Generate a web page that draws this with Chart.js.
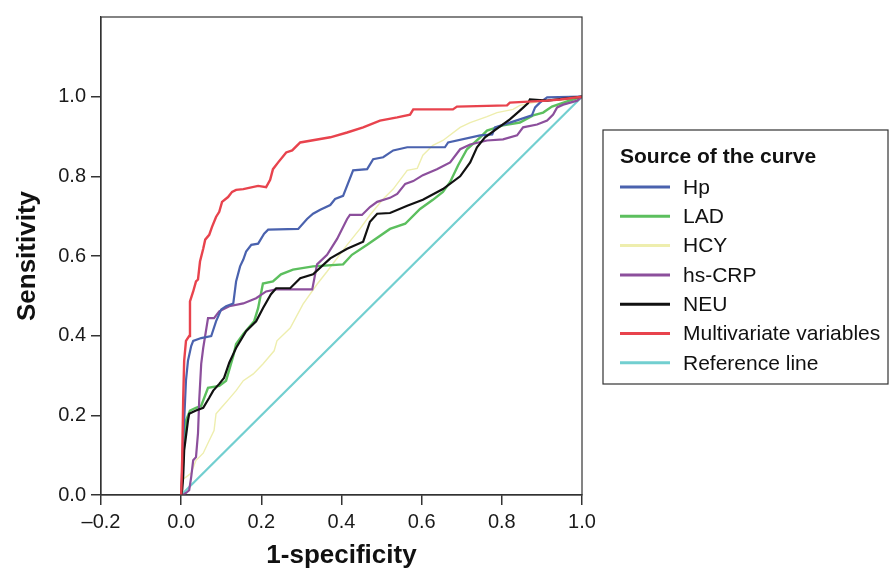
<!DOCTYPE html>
<html>
<head>
<meta charset="utf-8">
<script src="https://cdn.jsdelivr.net/npm/chart.js@4.4.1/dist/chart.umd.min.js"></script>
<style>
  html, body { margin: 0; padding: 0; background: #fff; }
  #wrap { width: 890px; height: 571px; position: relative; }
</style>
</head>
<body>
<div id="wrap"><canvas id="roc" width="890" height="571"></canvas></div>
<script>
// ROC curves (x = 1-specificity, y = sensitivity)
const hpX = [0, 0.0025, 0.005, 0.0075, 0.012, 0.017, 0.025, 0.030, 0.050, 0.075, 0.087, 0.100, 0.112, 0.130, 0.137, 0.147, 0.155, 0.162, 0.175, 0.192, 0.207, 0.217, 0.292, 0.314, 0.329, 0.347, 0.372, 0.384, 0.404, 0.429, 0.464, 0.479, 0.504, 0.529, 0.564, 0.658, 0.666, 0.746, 0.776, 0.783, 0.845, 0.875, 0.883, 0.895, 0.913, 1];
const hpY = [0, 0.062, 0.137, 0.187, 0.287, 0.337, 0.374, 0.387, 0.394, 0.399, 0.436, 0.466, 0.474, 0.481, 0.536, 0.574, 0.591, 0.611, 0.628, 0.631, 0.656, 0.666, 0.668, 0.693, 0.706, 0.716, 0.728, 0.743, 0.751, 0.815, 0.818, 0.843, 0.848, 0.865, 0.873, 0.873, 0.885, 0.903, 0.905, 0.923, 0.943, 0.953, 0.973, 0.985, 0.998, 1];

const ladX = [0, 0.0025, 0.0075, 0.012, 0.022, 0.037, 0.050, 0.067, 0.095, 0.112, 0.130, 0.137, 0.155, 0.182, 0.192, 0.204, 0.229, 0.249, 0.279, 0.329, 0.404, 0.426, 0.464, 0.521, 0.559, 0.596, 0.628, 0.653, 0.671, 0.691, 0.713, 0.746, 0.763, 0.803, 0.845, 0.878, 0.903, 0.925, 0.963, 1];
const ladY = [0, 0.037, 0.137, 0.187, 0.212, 0.219, 0.224, 0.269, 0.274, 0.287, 0.349, 0.379, 0.404, 0.436, 0.469, 0.531, 0.536, 0.554, 0.566, 0.574, 0.579, 0.603, 0.628, 0.668, 0.681, 0.718, 0.741, 0.761, 0.786, 0.828, 0.868, 0.898, 0.915, 0.928, 0.935, 0.953, 0.960, 0.975, 0.988, 1];

const hcyX = [0, 0.0025, 0.012, 0.025, 0.037, 0.055, 0.070, 0.082, 0.087, 0.100, 0.120, 0.137, 0.155, 0.180, 0.204, 0.232, 0.239, 0.272, 0.304, 0.339, 0.364, 0.414, 0.446, 0.471, 0.504, 0.529, 0.564, 0.589, 0.603, 0.628, 0.653, 0.696, 0.721, 0.763, 0.788, 0.828, 0.845, 0.878, 0.913, 0.970, 1];
const hcyY = [0, 0.037, 0.045, 0.055, 0.087, 0.105, 0.137, 0.162, 0.204, 0.219, 0.242, 0.262, 0.287, 0.304, 0.329, 0.362, 0.387, 0.419, 0.479, 0.529, 0.561, 0.628, 0.668, 0.703, 0.743, 0.768, 0.815, 0.820, 0.853, 0.878, 0.890, 0.923, 0.935, 0.950, 0.960, 0.968, 0.978, 0.985, 0.990, 0.993, 1];

const crpX = [0, 0.005, 0.012, 0.020, 0.025, 0.030, 0.037, 0.042, 0.045, 0.050, 0.055, 0.067, 0.082, 0.095, 0.120, 0.155, 0.187, 0.212, 0.237, 0.327, 0.339, 0.364, 0.389, 0.414, 0.421, 0.451, 0.471, 0.489, 0.521, 0.539, 0.559, 0.579, 0.603, 0.638, 0.671, 0.696, 0.721, 0.763, 0.803, 0.838, 0.853, 0.888, 0.913, 0.928, 0.938, 0.953, 0.988, 1];
const crpY = [0, 0, 0.005, 0.012, 0.045, 0.087, 0.095, 0.155, 0.237, 0.329, 0.369, 0.444, 0.444, 0.461, 0.474, 0.481, 0.494, 0.511, 0.516, 0.516, 0.579, 0.603, 0.643, 0.693, 0.703, 0.703, 0.723, 0.736, 0.746, 0.756, 0.781, 0.788, 0.803, 0.818, 0.835, 0.868, 0.880, 0.890, 0.893, 0.903, 0.923, 0.930, 0.940, 0.955, 0.973, 0.980, 0.990, 1];

const neuX = [0, 0.0025, 0.005, 0.0075, 0.017, 0.020, 0.037, 0.055, 0.070, 0.080, 0.095, 0.107, 0.120, 0.137, 0.162, 0.187, 0.204, 0.224, 0.237, 0.272, 0.297, 0.329, 0.372, 0.414, 0.454, 0.471, 0.489, 0.521, 0.564, 0.603, 0.653, 0.696, 0.721, 0.738, 0.758, 0.788, 0.820, 0.845, 0.865, 0.870, 0.913, 1];
const neuY = [0, 0.012, 0.045, 0.112, 0.187, 0.204, 0.212, 0.219, 0.244, 0.262, 0.279, 0.294, 0.332, 0.369, 0.411, 0.436, 0.469, 0.504, 0.519, 0.519, 0.544, 0.554, 0.594, 0.618, 0.636, 0.686, 0.706, 0.708, 0.726, 0.741, 0.768, 0.800, 0.835, 0.873, 0.898, 0.920, 0.943, 0.965, 0.983, 0.993, 0.990, 1];

const multiX = [0, 0.0025, 0.005, 0.0075, 0.012, 0.020, 0.022, 0.030, 0.037, 0.042, 0.047, 0.055, 0.060, 0.070, 0.077, 0.087, 0.095, 0.102, 0.117, 0.127, 0.137, 0.155, 0.192, 0.212, 0.222, 0.229, 0.242, 0.262, 0.277, 0.297, 0.372, 0.414, 0.454, 0.496, 0.539, 0.571, 0.579, 0.678, 0.688, 0.813, 0.820, 0.913, 0.945, 1];
const multiY = [0, 0.087, 0.237, 0.337, 0.387, 0.399, 0.486, 0.511, 0.536, 0.541, 0.586, 0.618, 0.641, 0.653, 0.673, 0.698, 0.711, 0.736, 0.748, 0.761, 0.766, 0.768, 0.776, 0.773, 0.791, 0.818, 0.835, 0.860, 0.865, 0.885, 0.898, 0.910, 0.923, 0.940, 0.948, 0.955, 0.968, 0.968, 0.975, 0.978, 0.985, 0.990, 0.993, 1];

const refX = [0, 1];
const refY = [0, 1];

const seriesLabels = ['Hp', 'LAD', 'HCY', 'hs-CRP', 'NEU', 'Multivariate variables', 'Reference line'];
const seriesColors = ['#4a62ae', '#5cbf5e', '#eeeeae', '#8c4f9c', '#111111', '#e8434d', '#72cfd0'];
const seriesWidths = [2.2, 2.4, 1.4, 2.2, 2.2, 2.4, 2.2];
const seriesX = [hpX, ladX, hcyX, crpX, neuX, multiX, refX];
const seriesY = [hpY, ladY, hcyY, crpY, neuY, multiY, refY];
// which curve sits on top (lower = drawn last)
const drawOrder = [2, 4, 5, 3, 1, 0, 6];

const xTicks = [-0.2, 0, 0.2, 0.4, 0.6, 0.8, 1.0];
const yTicks = [0, 0.2, 0.4, 0.6, 0.8, 1.0];

const FONT = "'Liberation Sans', Arial, sans-serif";

function fmt(v) {
    const s = (Math.abs(v) < 1e-9 ? 0 : v).toFixed(1);
    return s.replace('-', '\u2013');
}

const datasets = seriesLabels.map((label, i) => ({
    label,
    data: seriesX[i].map((x, k) => ({ x, y: seriesY[i][k] })),
    borderColor: seriesColors[i],
    backgroundColor: seriesColors[i],
    borderWidth: seriesWidths[i],
    pointRadius: 0,
    tension: 0,
    fill: false,
    order: drawOrder[i]
}));

// plot frame (top and right sides too)
const framePlugin = {
    id: 'frame',
    afterDatasetsDraw(chart) {
        const { ctx, chartArea: a } = chart;
        ctx.save();
        ctx.strokeStyle = '#333';
        ctx.lineWidth = 1.2;
        ctx.strokeRect(a.left, a.top, a.right - a.left, a.bottom - a.top);
        ctx.restore();
    }
};

// boxed legend on the right, like the original
const boxLegend = {
    id: 'boxLegend',
    afterDraw(chart) {
        const ctx = chart.ctx;
        const left = 603, top = 130, right = 888, bottom = 384;
        ctx.save();
        ctx.strokeStyle = '#333';
        ctx.lineWidth = 1.2;
        ctx.strokeRect(left, top, right - left, bottom - top);
        ctx.fillStyle = '#111';
        ctx.textBaseline = 'middle';
        ctx.font = `bold 21px ${FONT}`;
        ctx.fillText('Source of the curve', 620, 157);
        ctx.font = `21px ${FONT}`;
        chart.data.datasets.forEach((ds, i) => {
            const y = 187 + i * 29.3;
            ctx.strokeStyle = ds.borderColor;
            ctx.lineWidth = 3;
            ctx.beginPath();
            ctx.moveTo(620, y);
            ctx.lineTo(670, y);
            ctx.stroke();
            ctx.fillStyle = '#111';
            ctx.fillText(ds.label, 683, y + 1);
        });
        ctx.restore();
    }
};

new Chart(document.getElementById('roc').getContext('2d'), {
    type: 'line',
    data: { datasets },
    options: {
        responsive: false,
        devicePixelRatio: 1,
        animation: { duration: 0 },
        layout: { padding: { left: 0, right: 308, top: 14, bottom: 0 } },
        plugins: {
            legend: { display: false },
            tooltip: { enabled: false }
        },
        scales: {
            x: {
                type: 'linear',
                min: -0.2,
                max: 1.0,
                afterFit(scale) { scale.height = 76; },
                afterBuildTicks(scale) { scale.ticks = xTicks.map(v => ({ value: v })); },
                ticks: {
                    callback: v => fmt(v),
                    color: '#1a1a1a',
                    padding: 5,
                    maxRotation: 0,
                    font: { family: FONT, size: 20 }
                },
                grid: { display: true, drawOnChartArea: false, drawTicks: true, tickLength: 10, color: '#333', lineWidth: 1.5 },
                border: { display: true, color: '#333', width: 1.2 },
                title: {
                    display: true,
                    text: '1-specificity',
                    color: '#111',
                    padding: { top: 0, bottom: 0 },
                    font: { family: FONT, size: 26, weight: 'bold' }
                }
            },
            y: {
                type: 'linear',
                min: 0,
                max: 1.2,
                afterFit(scale) { scale.width = 101; },
                afterBuildTicks(scale) { scale.ticks = yTicks.map(v => ({ value: v })); },
                ticks: {
                    callback: v => fmt(v),
                    color: '#1a1a1a',
                    padding: 5,
                    font: { family: FONT, size: 20 }
                },
                grid: { display: true, drawOnChartArea: false, drawTicks: true, tickLength: 10, color: '#333', lineWidth: 1.5 },
                border: { display: true, color: '#333', width: 1.2 },
                title: {
                    display: true,
                    text: 'Sensitivity',
                    color: '#111',
                    padding: { top: 12, bottom: 0 },
                    font: { family: FONT, size: 26, weight: 'bold' }
                }
            }
        }
    },
    plugins: [framePlugin, boxLegend]
});
</script>
</body>
</html>
